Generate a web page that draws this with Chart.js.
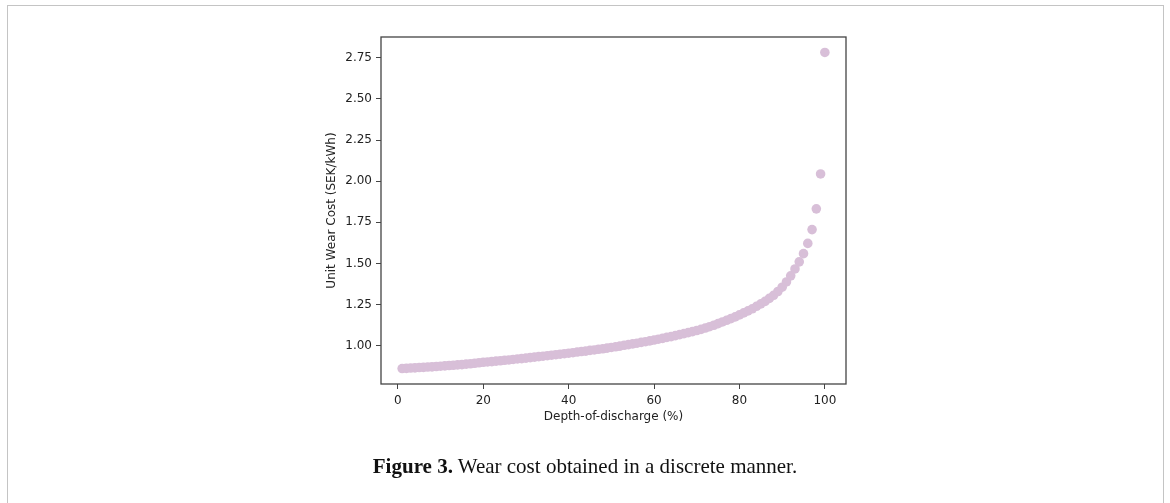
<!DOCTYPE html>
<html>
<head>
<meta charset="utf-8">
<script src="https://cdn.jsdelivr.net/npm/chart.js@4"></script>
<style>
  html, body { margin: 0; padding: 0; background: #fff; }
  body { width: 1170px; height: 503px; position: relative; overflow: hidden; }
  #frame { position: absolute; left: 7px; top: 5px; width: 1155px; height: 600px;
           border: 1.5px solid #c4c4c4; border-bottom: none; }
  #wrap { position: absolute; left: 0; top: 0; width: 1170px; height: 503px; }
  #caption { position: absolute; left: 0; width: 1170px; top: 454px; text-align: center;
             font-family: "Liberation Serif", "DejaVu Serif", serif; font-size: 21px;
             line-height: 24px; color: #111; }
  #caption b { font-weight: bold; }
</style>
</head>
<body>
<div id="frame"></div>
<div id="wrap"><canvas id="c" width="1170" height="503" style="width:1170px;height:503px"></canvas></div>
<div id="caption"><b>Figure 3.</b> Wear cost obtained in a discrete manner.</div>
<script>
// Depth-of-discharge (%)
const depthOfDischarge = [
  1,2,3,4,5,6,7,8,9,10,11,12,13,14,15,16,17,18,19,20,
  21,22,23,24,25,26,27,28,29,30,31,32,33,34,35,36,37,38,39,40,
  41,42,43,44,45,46,47,48,49,50,51,52,53,54,55,56,57,58,59,60,
  61,62,63,64,65,66,67,68,69,70,71,72,73,74,75,76,77,78,79,80,
  81,82,83,84,85,86,87,88,89,90,91,92,93,94,95,96,97,98,99,100
];
// Unit wear cost (SEK/kWh)
const unitWearCost = [
  0.862,0.863,0.865,0.866,0.868,0.869,0.871,0.872,0.874,0.876,
  0.878,0.880,0.882,0.884,0.886,0.889,0.891,0.894,0.897,0.900,
  0.902,0.904,0.907,0.909,0.912,0.914,0.917,0.920,0.922,0.925,
  0.928,0.931,0.934,0.937,0.940,0.943,0.946,0.949,0.952,0.955,
  0.958,0.962,0.965,0.968,0.972,0.975,0.979,0.982,0.986,0.990,
  0.994,0.998,1.003,1.007,1.012,1.016,1.021,1.025,1.030,1.035,
  1.040,1.045,1.051,1.056,1.062,1.068,1.074,1.080,1.086,1.093,
  1.100,1.108,1.116,1.125,1.135,1.145,1.155,1.165,1.176,1.188,
  1.200,1.212,1.225,1.240,1.255,1.270,1.288,1.307,1.330,1.356,
  1.388,1.425,1.467,1.510,1.560,1.622,1.706,1.832,2.044,2.782
];
const xTicks = [0, 20, 40, 60, 80, 100];
const yTicks = [1.00, 1.25, 1.50, 1.75, 2.00, 2.25, 2.50, 2.75];
const xLabel = 'Depth-of-discharge (%)';
const yLabel = 'Unit Wear Cost (SEK/kWh)';

const points = depthOfDischarge.map((x, i) => ({ x: x, y: unitWearCost[i] }));
const axisColor = '#444';
const textColor = '#222';
const tickFont = { family: 'DejaVu Sans', size: 12 };

const boxPlugin = {
  id: 'box',
  afterDraw(chart) {
    const a = chart.chartArea, ctx = chart.ctx;
    ctx.save();
    ctx.strokeStyle = axisColor;
    ctx.lineWidth = 1.3;
    ctx.strokeRect(a.left, a.top, a.right - a.left, a.bottom - a.top);
    ctx.restore();
  }
};

new Chart(document.getElementById('c'), {
  type: 'scatter',
  data: {
    datasets: [{
      data: points,
      backgroundColor: '#d8bfd8',
      borderWidth: 0,
      pointRadius: 4.8,
      pointHoverRadius: 4.8
    }]
  },
  options: {
    responsive: false,
    animation: false,
    devicePixelRatio: 1,
    layout: { padding: { left: 300, top: 37, right: 324, bottom: 69 } },
    plugins: { legend: { display: false }, tooltip: { enabled: false } },
    scales: {
      x: {
        type: 'linear',
        min: -3.95, max: 104.95,
        afterBuildTicks(axis) { axis.ticks = xTicks.map(v => ({ value: v })); },
        afterFit(axis) { axis.height = 50; },
        grid: { display: true, drawOnChartArea: false, drawTicks: true, tickLength: 5, color: axisColor, tickWidth: 1 },
        border: { display: false },
        ticks: { color: textColor, font: tickFont, padding: 5, maxRotation: 0, callback: v => String(v) },
        title: { display: true, text: xLabel, color: textColor, font: tickFont, padding: { top: 0, bottom: 10 } }
      },
      y: {
        type: 'linear',
        min: 0.768, max: 2.876,
        afterBuildTicks(axis) { axis.ticks = yTicks.map(v => ({ value: v })); },
        afterFit(axis) { axis.width = 81; },
        grid: { display: true, drawOnChartArea: false, drawTicks: true, tickLength: 5, color: axisColor, tickWidth: 1 },
        border: { display: false },
        ticks: { color: textColor, font: tickFont, padding: 4, callback: v => Number(v).toFixed(2) },
        title: { display: true, text: yLabel, color: textColor, font: tickFont, padding: { top: 25, bottom: 0 } }
      }
    }
  },
  plugins: [boxPlugin]
});
</script>
</body>
</html>
